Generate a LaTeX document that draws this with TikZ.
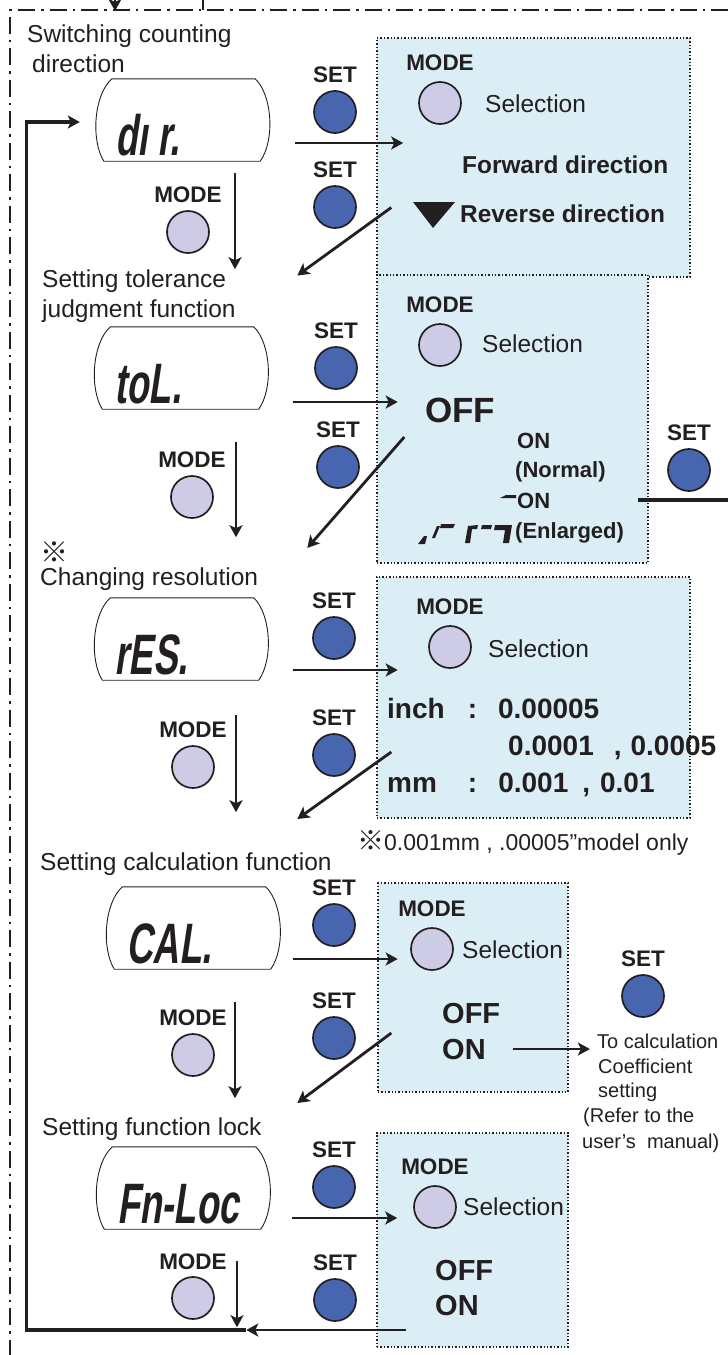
\documentclass[tikz,border=0pt]{standalone}
\usepackage{fontspec}
\setmainfont{Liberation Sans}
\newfontfamily\lcdfont{Liberation Sans}[FakeSlant=0.15,FakeStretch=0.64]
\newfontfamily\cjk{Noto Sans CJK JP}
\usetikzlibrary{arrows.meta, positioning}
\definecolor{setblue}{RGB}{72,101,176}
\definecolor{modelilac}{RGB}{205,203,230}
\definecolor{boxblue}{RGB}{219,238,245}
\definecolor{ink}{RGB}{35,31,32}

% barrel shaped outline of the display
\newcommand\lcdframe[1]{%
  \draw[ink, line width=0.9pt] ([xshift=16pt]#1.north west) -- ([xshift=-15pt]#1.north east)
    .. controls ([shift={(2,16)}]#1.north east) and ([shift={(5,-21)}]#1.south east)
    .. ([xshift=-10pt]#1.south east) -- ([xshift=8pt]#1.south west)
    .. controls ([shift={(-5,-21)}]#1.south west) and ([shift={(-2,16)}]#1.north west)
    .. ([xshift=16pt]#1.north west);}

\begin{document}
\begin{tikzpicture}[x=1pt, y=-1pt,
  heading/.style={anchor=base west, inner sep=0pt, text=ink, font=\fontsize{24.5}{26}\selectfont},
  btnlbl/.style={inner sep=0pt, text=ink, font=\bfseries\fontsize{22.5}{23}\selectfont},
  setbtn/.style={circle, draw=ink, line width=1.7pt, fill=setblue, minimum size=42pt, inner sep=0pt},
  modebtn/.style={setbtn, fill=modelilac},
  selbox/.style={draw=ink, dotted, line width=1.4pt, fill=boxblue, inner sep=0pt},
  lcd/.style={minimum width=174pt, minimum height=82pt, inner sep=0pt},
  lcdtxt/.style={anchor=base west, inner sep=0pt, text=ink, font=\lcdfont\bfseries\fontsize{57}{57}\selectfont},
  selword/.style={anchor=base west, inner sep=0pt, text=ink, font=\fontsize{24.5}{26}\selectfont},
  choice/.style={anchor=base west, inner sep=0pt, text=ink, font=\bfseries\fontsize{24.4}{26}\selectfont},
  smallchoice/.style={choice, font=\bfseries\fontsize{22}{24}\selectfont},
  bigchoice/.style={choice, font=\bfseries\fontsize{29}{30}\selectfont},
  remark/.style={anchor=base west, inner sep=0pt, text=ink, font=\fontsize{20}{22}\selectfont},
  flow/.style={-{Stealth[length=12pt,width=13pt,inset=3pt]}, line width=2.8pt, draw=ink},
  heavy/.style={line width=3.2pt, draw=ink},
  dashdot/.style={line width=2pt, draw=ink, dash pattern=on 17pt off 6pt on 2.5pt off 6pt}
]
  \useasboundingbox (0,0) rectangle (728,1355);

  % outer frame and links to the previous / next chart
  \coordinate (corner) at (10,10);
  \draw[dashdot] (728,10) -- (corner) -- (10,1355);
  \coordinate (prevout) at (115,-4);
  \draw[flow] (prevout) -- (115,11);
  \coordinate (nextin) at (203,-4);
  \draw[heavy, line width=2.2pt] (nextin) -- (203,10);

  % selection panels
  \node[selbox, minimum width=313pt, minimum height=239pt] (box1) at (533.5,157.5) {};
  \node[selbox, minimum width=271pt, minimum height=288pt] (box2) at (512.5,419) {};
  \node[selbox, minimum width=313pt, minimum height=241pt] (box3) at (533.5,697.5) {};
  \node[selbox, minimum width=190pt, minimum height=209pt] (box4) at (473,987.5) {};
  \node[selbox, minimum width=191pt, minimum height=214pt] (box5) at (472.5,1240) {};

  % --- counting direction
  \node[heading] (t1a) at (27,42) {Switching counting};
  \node[heading] (t1b) at (32,72) {direction};
  \node[lcd] (lcd1) at (183,120) {};
  \lcdframe{lcd1}
  \node[lcdtxt] (lcd1t) at ([shift={(19,-6)}]lcd1.south west) {dı r.};
  \node[setbtn] (set1a) at (335,112) {};
  \node[btnlbl, above=7pt of set1a] (set1al) {SET};
  \node[setbtn] (set1b) at (335,207) {};
  \node[btnlbl, above=7pt of set1b] (set1bl) {SET};
  \node[modebtn] (mode1) at (188,232) {};
  \node[btnlbl, above=7pt of mode1] (mode1l) {MODE};
  \node[modebtn] (sel1) at (440,103) {};
  \node[btnlbl, above=10pt of sel1] (sel1l) {MODE};
  \node[selword] (sel1t) at (485,112) {Selection};
  \node[choice] (fwd) at (462,173) {Forward direction};
  \fill[ink] (413,202) -- (455,202) -- (433,228) -- cycle;
  \node[choice] (rev) at (460,222) {Reverse direction};
  \draw[flow] ([shift={(25,23)}]lcd1.east) -- ++(108,0);
  \draw[flow] ([shift={(52,12)}]lcd1.south) -- ++(0,96);
  \draw[flow] ([shift={(15,50)}]box1.west) -- ++(-94,68);

  % --- tolerance judgment
  \node[heading] (t2a) at (42,287) {Setting tolerance};
  \node[heading] (t2b) at (42,317) {judgment function};
  \node[lcd] (lcd2) at (181.5,368) {};
  \lcdframe{lcd2}
  \node[lcdtxt] (lcd2t) at ([shift={(20,-6)}]lcd2.south west) {toL.};
  \node[setbtn] (set2a) at (336,368) {};
  \node[btnlbl, above=7pt of set2a] (set2al) {SET};
  \node[setbtn] (set2b) at (338,467) {};
  \node[btnlbl, above=7pt of set2b] (set2bl) {SET};
  \node[modebtn] (mode2) at (192,497) {};
  \node[btnlbl, above=7pt of mode2] (mode2l) {MODE};
  \node[modebtn] (sel2) at (440,345) {};
  \node[btnlbl, above=10pt of sel2] (sel2l) {MODE};
  \node[selword] (sel2t) at (482,352) {Selection};
  \node[choice, font=\bfseries\fontsize{35}{35}\selectfont] (off2) at (425,422) {OFF};
  \node[smallchoice] (on2a) at (517,448) {ON};
  \node[smallchoice] (norm2) at (515,477) {(Normal)};
  \node[smallchoice] (on2b) at (517,508) {ON};
  \node[smallchoice] (enl2) at (515,538) {(Enlarged)};
  \fill[ink] (500,498) -- (506,495) -- (516,495) -- (516,498) -- cycle;
  \fill[ink] (418,544) -- (424,536) -- (427,536) -- (425,544) -- cycle;
  \fill[ink] (432,538) -- (437,526) -- (440,526) -- (435,538) -- cycle;
  \fill[ink] (441,524) -- (455,524) -- (453,528) -- (440,528) -- cycle;
  \fill[ink] (465,543) -- (468,526) -- (478,525) -- (477,529) -- (472,529) -- (470,543) -- cycle;
  \fill[ink] (482,525) -- (492,525) -- (491,529) -- (481,529) -- cycle;
  \fill[ink] (495,525) -- (512,525) -- (509,543) -- (503,543) -- (505,530) -- (494,530) -- cycle;
  \node[setbtn] (set2c) at (689,470) {};
  \node[btnlbl, above=7pt of set2c] (set2cl) {SET};
  \draw[flow] ([shift={(24,34)}]lcd2.east) -- ++(105,0);
  \draw[flow] ([shift={(54.5,33)}]lcd2.south) -- ++(0,95);
  \draw[flow] ([shift={(28,18)}]box2.west) -- ++(-97,111);
  \draw[heavy] ([shift={(-11,81)}]box2.east) -- ++(91,0);

  % --- resolution
  \node[heading, font=\cjk\fontsize{28}{28}\selectfont] (t3a) at (40,562) {※};
  \node[heading] (t3b) at (40,585) {Changing resolution};
  \node[lcd] (lcd3) at (181.5,639) {};
  \lcdframe{lcd3}
  \node[lcdtxt] (lcd3t) at ([shift={(20,-6)}]lcd3.south west) {rES.};
  \node[setbtn] (set3a) at (334,638) {};
  \node[btnlbl, above=7pt of set3a] (set3al) {SET};
  \node[setbtn] (set3b) at (334,755) {};
  \node[btnlbl, above=7pt of set3b] (set3bl) {SET};
  \node[modebtn] (mode3) at (193,767) {};
  \node[btnlbl, above=7pt of mode3] (mode3l) {MODE};
  \node[modebtn] (sel3) at (450,647) {};
  \node[btnlbl, above=10pt of sel3] (sel3l) {MODE};
  \node[selword] (sel3t) at (488,657) {Selection};
  \node[choice, font=\bfseries\fontsize{28}{30}\selectfont] (inch) at (387,718)
    {inch\hspace{23pt}:\hspace{21pt}0.00005};
  \node[choice, font=\bfseries\fontsize{28}{30}\selectfont] (inch2) at (508,755)
    {0.0001\hspace{20pt},\hspace{9pt}0.0005};
  \node[choice, font=\bfseries\fontsize{28}{30}\selectfont] (mm) at (387,792)
    {mm\hspace{31pt}:\hspace{21pt}0.001\hspace{14pt},\hspace{10pt}0.01};
  \node[selword, font=\fontsize{23}{24}\selectfont] (only) at (357,850)
    {{\cjk\fontsize{27}{27}\selectfont ※}0.001mm , .00005”model only};
  \draw[flow] ([shift={(24,31)}]lcd3.east) -- ++(105,0);
  \draw[flow] ([shift={(54.5,35)}]lcd3.south) -- ++(0,97);
  \draw[flow] ([shift={(15,54.5)}]box3.west) -- ++(-94,67);

  % --- calculation
  \node[heading] (t4) at (40,870) {Setting calculation function};
  \node[lcd] (lcd4) at (193.5,928) {};
  \lcdframe{lcd4}
  \node[lcdtxt] (lcd4t) at ([shift={(20,-6)}]lcd4.south west) {CAL.};
  \node[setbtn] (set4a) at (334,925) {};
  \node[btnlbl, above=7pt of set4a] (set4al) {SET};
  \node[setbtn] (set4b) at (334,1038) {};
  \node[btnlbl, above=7pt of set4b] (set4bl) {SET};
  \node[modebtn] (mode4) at (193,1055) {};
  \node[btnlbl, above=7pt of mode4] (mode4l) {MODE};
  \node[modebtn] (sel4) at (432,949) {};
  \node[btnlbl, above=10pt of sel4] (sel4l) {MODE};
  \node[selword] (sel4t) at (462,958) {Selection};
  \node[bigchoice] (off4) at (442,1023) {OFF};
  \node[bigchoice] (on4) at (442,1059) {ON};
  \node[setbtn] (set4c) at (643,996) {};
  \node[btnlbl, above=7pt of set4c] (set4cl) {SET};
  \node[remark] (calc1) at (597,1048) {To calculation};
  \node[remark] (calc2) at (598,1073) {Coefficient};
  \node[remark] (calc3) at (598,1097) {setting};
  \node[remark] (calc4) at (583,1122) {(Refer to the};
  \node[remark] (calc5) at (582,1148) {user’s\ \ manual)};
  \draw[flow] ([xshift=27pt]on4.east) -- ++(77,0);
  \draw[flow] ([shift={(12,31)}]lcd4.east) -- ++(105,0);
  \draw[flow] ([shift={(41.5,33)}]lcd4.south) -- ++(0,96);
  \draw[flow] ([shift={(14,45.5)}]box4.west) -- ++(-94,70);

  % --- function lock
  \node[heading] (t5) at (42,1135) {Setting function lock};
  \node[lcd] (lcd5) at (183.5,1188) {};
  \lcdframe{lcd5}
  \node[lcdtxt] (lcd5t) at ([shift={(20.5,-6)}]lcd5.south west) {Fn-Loc};
  \node[setbtn] (set5a) at (334,1187) {};
  \node[btnlbl, above=7pt of set5a] (set5al) {SET};
  \node[setbtn] (set5b) at (335,1300) {};
  \node[btnlbl, above=7pt of set5b] (set5bl) {SET};
  \node[modebtn] (mode5) at (193,1298) {};
  \node[btnlbl, above=6pt of mode5] (mode5l) {MODE};
  \node[modebtn] (sel5) at (435,1207) {};
  \node[btnlbl, above=10pt of sel5] (sel5l) {MODE};
  \node[selword] (sel5t) at (463,1215) {Selection};
  \node[bigchoice] (off5) at (435,1280) {OFF};
  \node[bigchoice] (on5) at (435,1315) {ON};
  \draw[flow] ([shift={(21.5,30)}]lcd5.east) -- ++(105,0);
  \draw[flow] ([shift={(53.5,32)}]lcd5.south) -- ++(0,66);

  % return to the first item
  \draw[flow] ([shift={(30,90)}]box5.west) -- ++(-160,0) coordinate (back);
  \draw[flow, line width=3.2pt] (back) -- ++(-220,0) |- ([shift={(-16,2)}]lcd1.west);
\end{tikzpicture}
\end{document}
